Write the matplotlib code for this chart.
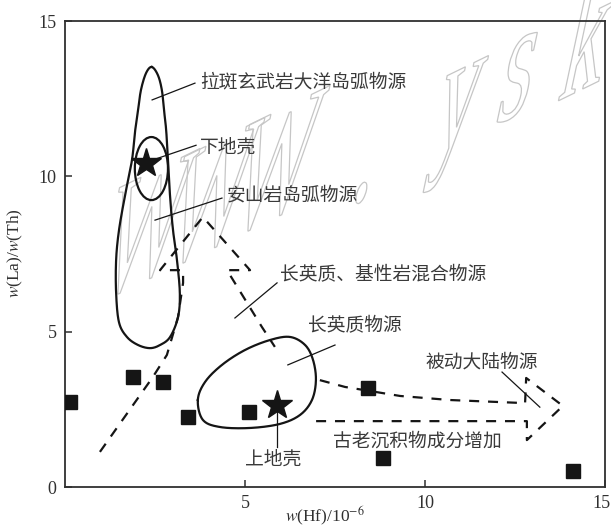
import numpy as np
import matplotlib
matplotlib.use("Agg")
import matplotlib.pyplot as plt
from matplotlib.patches import Ellipse, PathPatch
from matplotlib.textpath import TextPath
from matplotlib.font_manager import FontProperties
import matplotlib.transforms as mtransforms

plt.rcParams["font.family"] = ["Liberation Serif", "Noto Sans CJK SC", "DejaVu Sans"]
plt.rcParams["mathtext.fontset"] = "stix"

# ---- sample data: Hf (10^-6) vs La/Th ----
hf_samples = [0.15, 1.90, 2.73, 3.43, 5.12, 8.43, 8.84, 14.10]
la_th_samples = [2.75, 3.55, 3.39, 2.26, 2.40, 3.18, 0.92, 0.52]

# reference crust compositions
crust_names = ["下地壳", "上地壳"]
crust_hf = [2.25, 5.90]
crust_la_th = [10.42, 2.64]

# ---- field outlines ----
arc_field_hf = [2.41, 2.58, 2.69, 2.75, 2.81, 2.86, 2.92, 3.00, 3.11, 3.19, 3.14,
                2.92, 2.64, 2.36, 2.03, 1.72, 1.50, 1.42, 1.42, 1.50, 1.67, 1.86,
                1.94, 2.03, 2.11, 2.25]
arc_field_la_th = [13.52, 13.26, 12.78, 12.13, 11.49, 10.52, 9.33, 8.27, 7.31, 6.24, 5.47,
                   4.83, 4.57, 4.47, 4.57, 4.83, 5.30, 6.24, 7.31, 8.27, 9.40, 10.52,
                   11.39, 12.13, 12.78, 13.32]

felsic_field_hf = [3.69, 3.89, 4.36, 5.00, 5.69, 6.25, 6.67, 6.89, 6.97, 6.86, 6.53,
                   5.97, 5.14, 4.31, 3.83]
felsic_field_la_th = [2.80, 3.38, 3.93, 4.41, 4.73, 4.83, 4.57, 4.09, 3.44, 2.80, 2.32,
                      2.03, 1.90, 1.93, 2.16]

lower_crust_field = dict(hf=2.40, la_th=10.25, width=0.92, height=2.03)

# ---- trend arrows (dashed outlines) ----
mixing_arrow_hf = [0.97, 2.44, 2.83, 3.14, 3.28, 3.28, 2.64, 3.83, 5.14, 4.50, 5.47, 5.83]
mixing_arrow_la_th = [1.13, 3.54, 4.25, 5.47, 6.57, 6.98, 6.98, 8.69, 6.98, 6.98, 5.15, 4.51]

passive_arrow_hf = [7.08, 7.78, 8.47, 9.31, 10.69, 12.78, 12.81, 13.83, 12.83, 12.83, 11.53, 6.94]
passive_arrow_la_th = [3.44, 3.22, 3.09, 2.93, 2.80, 2.70, 3.51, 2.61, 1.51, 2.12, 2.12, 2.12]

# ---- field labels: text, text anchor, leader line start, leader line end ----
labels = [
    ("拉斑玄武岩大洋岛弧物源", (3.75, 13.03), (2.42, 12.46), (3.61, 13.00)),
    ("下地壳", (3.75, 10.94), (2.42, 10.52), (3.64, 11.00)),
    ("安山岩岛弧物源", (4.50, 9.40), (2.50, 8.59), (4.36, 9.30)),
    ("长英质、基性岩混合物源", (5.97, 6.82), (4.72, 5.44), (5.89, 6.57)),
    ("长英质物源", (6.75, 5.18), (6.19, 3.93), (7.50, 4.57)),
    ("被动大陆物源", (10.00, 4.02), (12.14, 3.70), (13.19, 2.57)),
    ("古老沉积物成分增加", (7.44, 1.48), None, None),
    ("上地壳", (5.00, 0.90), (5.89, 2.57), (5.89, 1.29)),
]

x_ticks = [5, 10, 15]
y_ticks = [0, 5, 10, 15]

# watermark glyphs and their baseline anchors (pixels from the top-left corner)
watermark_chars = ["W", "W", "W", ".", "y", "s", "k"]
watermark_anchor_px = [(95, 303), (160, 272), (225, 240), (349, 206),
                       (429, 157), (493, 126), (556, 102)]


def closed_spline(xs, ys, n=24):
    """Closed Catmull-Rom curve through the given vertices."""
    p = np.column_stack([xs, ys]).astype(float)
    m = len(p)
    out = []
    for i in range(m):
        p0, p1, p2, p3 = p[(i - 1) % m], p[i], p[(i + 1) % m], p[(i + 2) % m]
        t = np.linspace(0, 1, n, endpoint=False)[:, None]
        seg = 0.5 * ((2 * p1) + (-p0 + p2) * t + (2 * p0 - 5 * p1 + 4 * p2 - p3) * t ** 2
                     + (-p0 + 3 * p1 - 3 * p2 + p3) * t ** 3)
        out.append(seg)
    out.append(p[:1])
    c = np.vstack(out)
    return c[:, 0], c[:, 1]


W_PX, H_PX = 611, 527
fig = plt.figure(figsize=(W_PX / 100, H_PX / 100), dpi=100)
ax = fig.add_axes([65 / W_PX, 40 / H_PX, 540 / W_PX, 466 / H_PX])
ax.set_xlim(0, 15)
ax.set_ylim(0, 15)
ax.set_facecolor("none")

ink = "#151515"
text_color = "#3a3a3a"
axis_color = "#303030"
cjk = ["Noto Sans CJK SC", "DejaVu Sans"]

# watermark: condensed, slanted outline glyphs beneath the plot
wm_font = FontProperties(family="Liberation Serif")
wm_width, wm_height = 95.0, 180.0
ua, va = np.deg2rad(26), np.deg2rad(78)
for ch, (px, py) in zip(watermark_chars, watermark_anchor_px):
    glyph = TextPath((0, 0), ch, size=1, prop=wm_font)
    m = np.array([[wm_width * np.cos(ua), wm_height * np.cos(va), px],
                  [wm_width * np.sin(ua), wm_height * np.sin(va), H_PX - py],
                  [0, 0, 1]])
    path = mtransforms.Affine2D(m).transform_path(glyph)
    fig.add_artist(PathPatch(path, transform=mtransforms.IdentityTransform(),
                             fc="none", ec="#c6c6c6", lw=0.9, zorder=-1))

# fields
fx, fy = closed_spline(arc_field_hf, arc_field_la_th)
ax.plot(fx, fy, color=ink, lw=1.6, zorder=3)
fx, fy = closed_spline(felsic_field_hf, felsic_field_la_th)
ax.plot(fx, fy, color=ink, lw=1.6, zorder=3)
ax.add_patch(Ellipse((lower_crust_field["hf"], lower_crust_field["la_th"]),
                     lower_crust_field["width"], lower_crust_field["height"],
                     fill=False, ec=ink, lw=1.6, zorder=3))

# trend arrows
ax.plot(mixing_arrow_hf, mixing_arrow_la_th, color=ink, lw=1.6, ls=(0, (4.5, 4)), zorder=3)
ax.plot(passive_arrow_hf, passive_arrow_la_th, color=ink, lw=1.6, ls=(0, (4.5, 4)), zorder=3)

# samples and crust references
ax.plot(hf_samples, la_th_samples, ls="none", marker="s", ms=10, color=ink, zorder=4)
ax.plot(crust_hf, crust_la_th, ls="none", marker="*", ms=22, color=ink, zorder=5)

# labels
for text, pos, l0, l1 in labels:
    ax.text(pos[0], pos[1], text, family=cjk, fontsize=13.5, color=text_color,
            ha="left", va="center", zorder=6)
    if l0 is not None:
        ax.plot([l0[0], l1[0]], [l0[1], l1[1]], color=ink, lw=0.9, zorder=6)

# axes styling
for s in ax.spines.values():
    s.set_color(axis_color)
    s.set_linewidth(1.3)
ax.set_xticks(x_ticks)
ax.set_yticks(y_ticks)
ax.tick_params(direction="in", length=5, width=1.1, color=axis_color,
               labelsize=13, labelcolor=axis_color, pad=6)
# keep the last x tick label inside the figure edge
last = ax.get_xticklabels()[-1]
last.set_transform(last.get_transform() +
                   mtransforms.ScaledTranslation(-4 / 100, 0, fig.dpi_scale_trans))

fig.text(325 / W_PX, (H_PX - 516) / H_PX, r"$w$(Hf)/10$^{-6}$", fontsize=12.5,
         color=axis_color, ha="center", va="center")
fig.text(15 / W_PX, (H_PX - 253) / H_PX, r"$w$(La)/$w$(Th)", fontsize=12.5,
         color=axis_color, ha="center", va="center", rotation=90)

fig.savefig("out.png", dpi=100)
